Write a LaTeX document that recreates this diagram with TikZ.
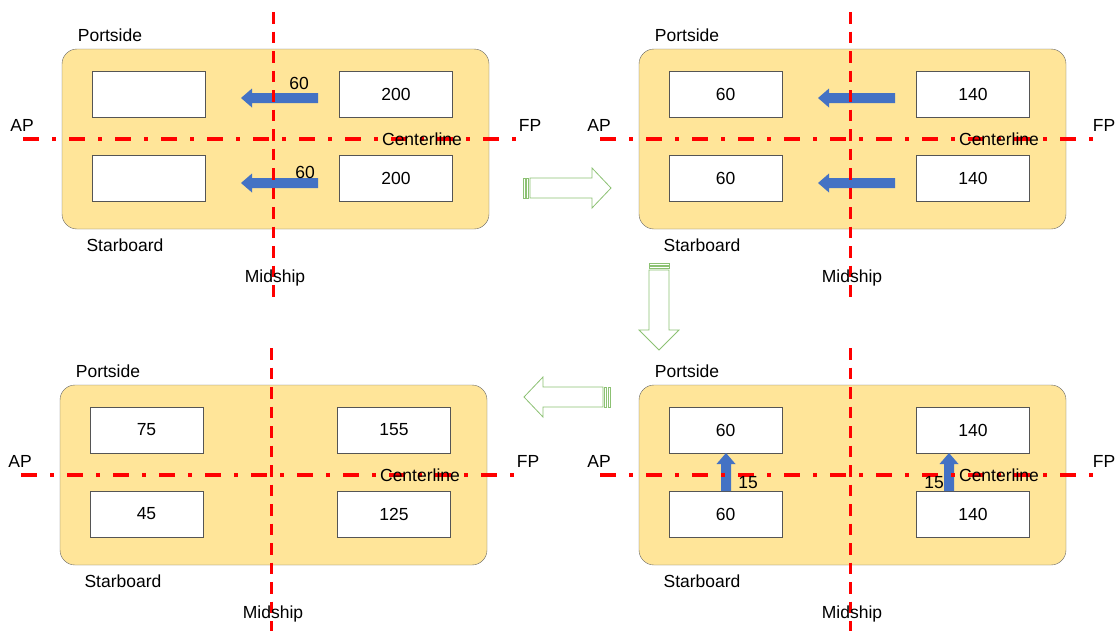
\documentclass[tikz,border=0pt]{standalone}
\usepackage{fontspec}
\setmainfont{Liberation Sans}

\definecolor{hullfill}{HTML}{FFE599}
\definecolor{hullline}{HTML}{666666}
\definecolor{tankline}{HTML}{555555}
\definecolor{moveblue}{HTML}{4472C4}
\definecolor{stepgreen}{HTML}{8CC173}

\begin{document}
\begin{tikzpicture}[x=1pt, y=-1pt, font=\fontsize{17.5}{20}\selectfont,
  hull/.style={draw=hullline, fill=hullfill, rounded corners=15pt,
    minimum width=427pt, minimum height=180pt, inner sep=0pt},
  tank/.style={draw=tankline, fill=white, minimum width=113pt,
    minimum height=46pt, inner sep=0pt},
  lbl/.style={inner sep=0pt},
  midline/.style={red, line width=3pt, dash pattern=on 11.5pt off 8pt},
  cline/.style={red, line width=3.5pt,
    dash pattern=on 16pt off 13pt on 4pt off 13pt},
  move/.style={fill=moveblue},
  stage/.style={draw=stepgreen, fill=white, line width=0.8pt}]

  \useasboundingbox (0,0) rectangle (1116,630);

  % --- initial load ---
  \begin{scope}
    \node[hull] (hullA) at (275.5,139) {};
    \node[tank] (aPA) at (148.5,94) {};
    \node[tank] (aPF) at (396,94) {200};
    \node[tank] (aSA) at (148.5,178) {};
    \node[tank] (aSF) at (396,178) {200};

    \fill[move] (318,93) -- (252,93) -- (252,88.5) -- (241,98)
      -- (252,107.5) -- (252,103) -- (318,103) -- cycle;
    \fill[move] (318,178) -- (252,178) -- (252,173.5) -- (241,183)
      -- (252,192.5) -- (252,188) -- (318,188) -- cycle;

    \draw[midline] (273,12) -- (273,298);
    \draw[cline] (23,139) -- (520,139);

    \node[lbl] (aPort) at (110,35) {Portside};
    \node[lbl] (aStar) at (125,245) {Starboard};
    \node[lbl] (aMid) at (275,278) {Midship};
    \node[lbl] (aAP) at (22,125) {AP};
    \node[lbl] (aFP) at (530,125) {FP};
    \node[lbl] (aCL) at (422,139) {Centerline};
    \node[lbl] (aMoveP) at (299,83) {60};
    \node[lbl] (aMoveS) at (305,172) {60};
  \end{scope}

  % --- shifted aft ---
  \begin{scope}[shift={(577,0)}]
    \node[hull] (hullB) at (275.5,139) {};
    \node[tank] (bPA) at (148.5,94) {60};
    \node[tank] (bPF) at (396,94) {140};
    \node[tank] (bSA) at (148.5,178) {60};
    \node[tank] (bSF) at (396,178) {140};

    \fill[move] (318,93) -- (252,93) -- (252,88.5) -- (241,98)
      -- (252,107.5) -- (252,103) -- (318,103) -- cycle;
    \fill[move] (318,178) -- (252,178) -- (252,173.5) -- (241,183)
      -- (252,192.5) -- (252,188) -- (318,188) -- cycle;

    \draw[midline] (273,12) -- (273,298);
    \draw[cline] (23,139) -- (520,139);

    \node[lbl] (bPort) at (110,35) {Portside};
    \node[lbl] (bStar) at (125,245) {Starboard};
    \node[lbl] (bMid) at (275,278) {Midship};
    \node[lbl] (bAP) at (22,125) {AP};
    \node[lbl] (bFP) at (527,125) {FP};
    \node[lbl] (bCL) at (422,139) {Centerline};
  \end{scope}

  % --- shifted to portside ---
  \begin{scope}[shift={(577,336)}]
    \node[hull] (hullC) at (275.5,139) {};
    \node[tank] (cPA) at (148.5,94) {60};
    \node[tank] (cPF) at (396,94) {140};
    \node[tank] (cSA) at (148.5,178) {60};
    \node[tank] (cSF) at (396,178) {140};

    \fill[move] (144,155) -- (144,128) -- (139.5,128) -- (149,117)
      -- (158.5,128) -- (154,128) -- (154,155) -- cycle;
    \fill[move] (367,155) -- (367,128) -- (362.5,128) -- (372,117)
      -- (381.5,128) -- (377,128) -- (377,155) -- cycle;

    \draw[midline] (273,12) -- (273,298);
    \draw[cline] (23,139) -- (520,139);

    \node[lbl] (cPort) at (110,35) {Portside};
    \node[lbl] (cStar) at (125,245) {Starboard};
    \node[lbl] (cMid) at (275,278) {Midship};
    \node[lbl] (cAP) at (22,125) {AP};
    \node[lbl] (cFP) at (527,125) {FP};
    \node[lbl] (cCL) at (422,139) {Centerline};
    \node[lbl] (cMoveA) at (171,147) {15};
    \node[lbl] (cMoveF) at (357,147) {15};
  \end{scope}

  % --- final load ---
  \begin{scope}[shift={(-2,336)}]
    \node[hull] (hullD) at (275.5,139) {};
    \node[tank] (dPA) at (148.5,94) {75};
    \node[tank] (dPF) at (396,94) {155};
    \node[tank] (dSA) at (148.5,178) {45};
    \node[tank] (dSF) at (396,178) {125};

    \draw[midline] (273,12) -- (273,298);
    \draw[cline] (23,139) -- (520,139);

    \node[lbl] (dPort) at (110,35) {Portside};
    \node[lbl] (dStar) at (125,245) {Starboard};
    \node[lbl] (dMid) at (275,278) {Midship};
    \node[lbl] (dAP) at (22,125) {AP};
    \node[lbl] (dFP) at (530,125) {FP};
    \node[lbl] (dCL) at (422,139) {Centerline};
  \end{scope}

  % --- steps ---
  \draw[stage] (530,178) -- (592,178) -- (592,168) -- (611,188)
    -- (592,208) -- (592,198) -- (530,198) -- cycle;
  \draw[stage] (523,178) rectangle (525,198);
  \draw[stage] (526.5,178) rectangle (528.5,198);

  \draw[stage] (649,270) -- (649,330) -- (639,330) -- (659,350)
    -- (679,330) -- (669,330) -- (669,270) -- cycle;
  \draw[stage] (649,263) rectangle (669,265);
  \draw[stage] (649,266.5) rectangle (669,268.5);

  \draw[stage] (603,387) -- (543,387) -- (543,377) -- (524,397)
    -- (543,417) -- (543,407) -- (603,407) -- cycle;
  \draw[stage] (604.5,387) rectangle (606.5,407);
  \draw[stage] (608,387) rectangle (610,407);

\end{tikzpicture}
\end{document}
